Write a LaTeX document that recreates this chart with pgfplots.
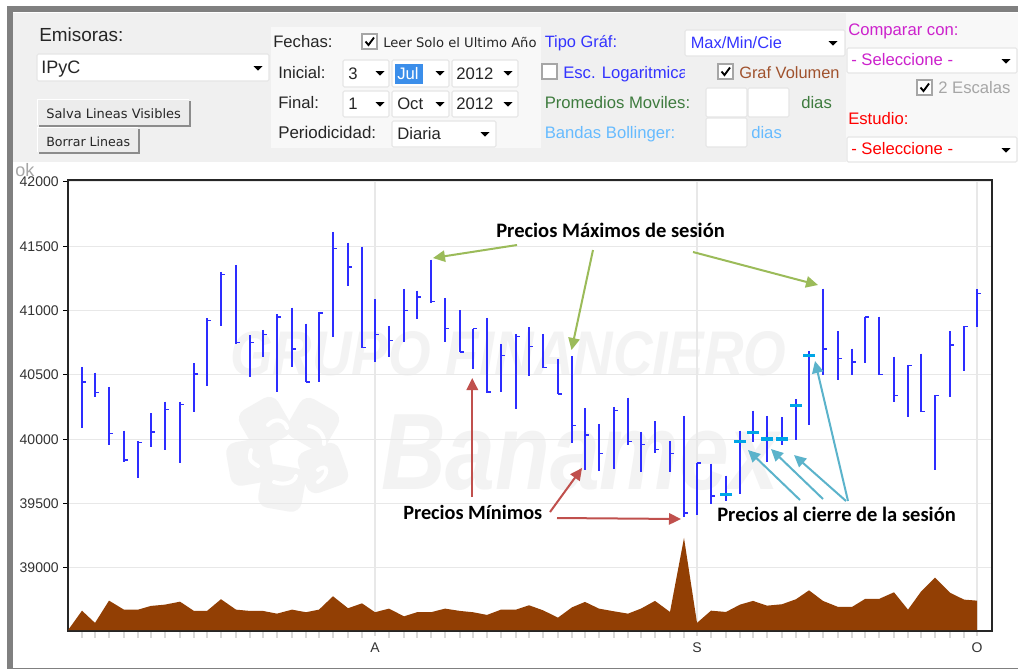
\documentclass[border=0pt]{standalone}
\usepackage{graphicx}
\usepackage{fontspec}
\usepackage{pgfplots}
\usepackage{pgfplotstable}
\pgfplotsset{compat=1.18}
\usetikzlibrary{arrows.meta}
\setmainfont{Liberation Sans}
\newfontfamily\calib{Carlito}
\newfontfamily\dejav{DejaVu Sans}
\definecolor{wm}{HTML}{F3F3F3}
\definecolor{barblue}{RGB}{45,45,255}
\definecolor{closecy}{HTML}{00A6E6}
\definecolor{vol}{HTML}{923F04}
\definecolor{gridc}{HTML}{E8E8E8}
\definecolor{pan}{HTML}{F0F0F0}
\definecolor{panb}{HTML}{F8F8F8}
\definecolor{fld}{HTML}{E6E6E6}
\definecolor{arG}{HTML}{9BBB59}
\definecolor{arR}{HTML}{C0504D}
\definecolor{arT}{HTML}{5BB3CB}
\definecolor{uiblue}{HTML}{3333FF}
\definecolor{uimag}{HTML}{CC22CC}
\definecolor{uigreen}{HTML}{3E7B3E}
\definecolor{uisky}{HTML}{66BBFF}
\definecolor{uibrown}{HTML}{A0522D}
\definecolor{uisel}{HTML}{3B8EEA}
\pgfdeclareplotmark{closetick}{\pgfpathmoveto{\pgfpoint{0pt}{0pt}}\pgfpathlineto{\pgfpoint{3pt}{0pt}}\pgfusepathqstroke}
\pgfplotstableread{
x hi lo cl
82 40562 40090 40446
95 40518 40329 40362
109 40407 39956 40044
124 40067 39824 39839
138 39985 39700 39977
151 40202 39938 40057
165 40293 39917 40230
180 40293 39814 40272
194 40591 40215 40508
207 40941 40412 40922
221 41301 40883 41280
236 41355 40741 40751
250 40809 40482 40754
263 40850 40638 40816
277 40972 40368 40951
292 41023 40565 40702
306 40899 40443 40446
319 40992 40443 40982
333 41611 40793 41485
348 41528 41192 41339
362 41497 40712 40712
375 41088 40603 40816
389 40881 40638 40767
404 41168 40759 41003
417 41155 40935 41106
431 41396 41062 41073
445 41096 40759 40860
460 41003 40679 40679
473 40860 40544 40860
487 40943 40358 40368
501 40739 40368 40650
516 40819 40236 40798
529 40871 40495 40723
543 40819 40557 40557
558 40624 40352 40352
572 40645 39969 40106
585 40241 39762 40034
599 40119 39754 39891
614 40251 39772 40223
628 40324 39956 39985
641 40057 39744 39961
655 40140 39896 39923
670 39985 39744 39891
684 40181 39399 39427
697 39816 39412 39816
711 39811 39495 39560
726 39717 39523 39570
740 40067 39575 39982
753 40223 39977 40055
767 40181 39824 40003
782 40171 39956 40003
796 40313 39997 40261
809 40687 40111 40653
823 41171 40502 40702
838 40840 40461 40630
852 40704 40502 40601
865 40951 40593 40951
879 40953 40502 40502
894 40642 40288 40342
908 40578 40174 40572
921 40666 40215 40215
935 40342 39762 40342
950 40840 40327 40733
964 40879 40533 40879
977 41168 40873 41135
}\bars
\pgfplotstableread{
x cl
726 39570
740 39982
753 40055
767 40003
782 40003
796 40261
809 40653
}\closes
\pgfplotstableread{
x v
68 38516
82 38668
95 38573
109 38746
124 38676
138 38676
151 38705
165 38715
180 38738
194 38666
207 38666
221 38757
236 38676
250 38666
263 38666
277 38645
292 38676
306 38656
319 38676
333 38780
348 38687
362 38725
375 38656
389 38684
404 38624
417 38656
431 38656
445 38684
460 38666
473 38656
487 38635
501 38676
516 38676
529 38710
543 38671
558 38614
572 38694
585 38736
599 38684
614 38663
628 38645
641 38684
655 38744
670 38658
684 39233
697 38573
711 38668
726 38658
740 38715
753 38744
767 38707
782 38718
796 38757
809 38826
823 38744
838 38697
852 38697
865 38759
879 38759
894 38811
908 38676
921 38816
935 38925
950 38808
964 38754
977 38746
977 38516
}\volume
% helpers, all in reference pixels
\newcommand{\Field}[4]{\draw[fld,fill=white,line width=.8pt,rounded corners=1pt] (#1,#2) rectangle (#3,#4);}
\newcommand{\Tri}[2]{\fill[black] (#1-4.5,#2-2) -- (#1+4.5,#2-2) -- (#1,#2+2.6) -- cycle;}
\newcommand{\Chk}[2]{\draw[gray!70,fill=white,line width=.9pt] (#1,#2) rectangle ++(15,15);
  \draw[black,line width=1.4pt] (#1+3.5,#2+7.5) -- (#1+6.5,#2+11) -- (#1+12,#2+3.5);}
\newcommand{\Txt}[5]{\node[anchor=mid west,inner sep=0pt,text=#3,font=\fontsize{#4}{#4}\selectfont] at (#1,#2+2.5) {#5};}
\newcommand{\Btn}[4]{\fill[gray!90] (#1+2,#2+2) rectangle (#3,#4);\fill[white] (#1,#2) rectangle (#3-2,#4-2);\fill[pan!80!gray!50!white] (#1+1,#2+1) rectangle (#3-2,#4-2);}
\begin{document}
\begin{tikzpicture}[x=.75pt,y=-.75pt]
\useasboundingbox (0,0) rectangle (1018,669);
\fill[white] (0,0) rectangle (1018,669);
% window frame
\fill[gray] (7,6) rectangle (13,669);
\fill[gray] (7,6) rectangle (1018,12);
\fill[gray] (7,667.6) rectangle (1018,669);
% watermark
\node[anchor=south west,inner sep=0pt,text=wm] at (230,376) {\resizebox{417pt}{33pt}{\bfseries\itshape GRUPO FINANCIERO}};
\node[anchor=south west,inner sep=0pt,text=wm] at (381,491) {\resizebox{298pt}{56pt}{\bfseries\itshape Banamex}};
\foreach \cx/\cy/\r in {265/423/30,313/424/-30,323/468/20,282/488/-10,250/462/10}{
  \node[fill=wm,rounded corners=8pt,minimum size=33pt,rotate=\r] at (\cx,\cy) {};}
\draw[white,line width=3pt,line cap=round] (268,425) .. controls (275,417) and (285,420) .. (287,428);
\draw[white,line width=3pt,line cap=round] (309,426) .. controls (320,428) and (325,437) .. (324,444);
\draw[white,line width=3pt,line cap=round] (318,470) .. controls (328,462) and (330,475) .. (318,482);
\draw[white,line width=3pt,line cap=round] (274,482) .. controls (285,486) and (295,482) .. (296,476);
\draw[white,line width=3pt,line cap=round] (251,450) .. controls (248,462) and (252,462) .. (258,466);
% chart
\begin{axis}[
  at={(51pt,-473.25pt)},anchor=south west,
  scale only axis,width=693pt,height=338.25pt,
  xmin=68,xmax=992,ymin=38510,ymax=42015,
  xtick={375,697,977},xticklabels={A,S,O},
  minor xtick={82,95,109,124,138,151,165,180,194,207,221,236,250,263,277,292,306,319,333,348,362,389,404,417,431,445,460,473,487,501,516,529,543,558,572,585,599,614,628,641,655,670,684,711,726,740,753,767,782,796,809,823,838,852,865,879,894,908,921,935,950,964},
  minor tick length=5pt,
  minor tick style={draw=gray!30,line width=.8pt},
  ytick={39000,39500,40000,40500,41000,41500,42000},
  scaled y ticks=false,
  yticklabel style={/pgf/number format/fixed,/pgf/number format/precision=0,/pgf/number format/1000 sep={}},
  grid=major,grid style={gridc,line width=.8pt},
  tick align=outside,tick pos=left,
  major tick length=3.5pt,
  xtick style={draw=gray!30,line width=.8pt},
  ytick style={draw=black,line width=.8pt},
  axis line style={draw=black!85,line width=1pt},
  tick label style={font=\fontsize{10.5}{10.5}\selectfont,text=black!80},
  x tick label style={yshift=-1.5pt},
  /pgf/number format/assume math mode=true,
  /pgf/number format/1000 sep={},
  clip=true,
]
\addplot[fill=vol,draw=none,forget plot] table[x=x,y=v] {\volume};
\addplot[draw=none,no marks,forget plot,
  error bars/.cd,y dir=minus,y explicit,error mark=none,
  error bar style={barblue,line width=1.15pt}]
  table[x=x,y=hi,y error minus expr=\thisrow{hi}-\thisrow{lo}] {\bars};
\addplot[only marks,mark=closetick,mark options={barblue,line width=1pt},forget plot] table[x=x,y=cl] {\bars};
\addplot[only marks,mark=-,mark size=4.6pt,mark options={closecy,line width=2.5pt},forget plot] table[x=x,y=cl] {\closes};
\end{axis}
% annotations
\begin{scope}[line width=1.5pt,arrows={-{Triangle[length=9pt,width=8.5pt]}}]
\draw[arG] (517,245) -- (433,258);
\draw[arG] (593,250) -- (571.5,350);
\draw[arG] (693,252) -- (818,285);
\draw[arR] (472.3,497) -- (472.3,378);
\draw[arR] (550,512) -- (582,468);
\draw[arR] (557,518) -- (681,519);
\draw[arT] (800,500) -- (748,450);
\draw[arT] (823,499) -- (771,449);
\draw[arT] (846,501) -- (794,455);
\draw[arT] (848,501) -- (815,361);
\end{scope}
\node[anchor=mid west,inner sep=0pt,text=black,font=\calib\bfseries\fontsize{15.4}{15.4}\selectfont] at (496,234) {Precios Máximos de sesión};
\node[anchor=mid west,inner sep=0pt,text=black,font=\calib\bfseries\fontsize{15.2}{15.2}\selectfont] at (403,516) {Precios Mínimos};
\node[anchor=mid west,inner sep=0pt,text=black,font=\calib\bfseries\fontsize{15.4}{15.4}\selectfont] at (717,518) {Precios al cierre de la sesión};
\Txt{15}{170}{gray!70}{13.5}{ok}
% control panels
\fill[pan] (13,13) rectangle (846,162);
\fill[panb] (846,13) rectangle (1018,162);
\fill[panb] (271,27) rectangle (541,148);
\Txt{39}{35}{black!85}{14.2}{Emisoras:}
\Field{37}{54}{269}{81}\Tri{258}{68}\Txt{41}{67.5}{black!85}{13.5}{IPyC}
\Btn{37}{99}{191}{127}\node[anchor=mid west,inner sep=0pt,text=black!85,font=\dejav\fontsize{9}{9}\selectfont] at (46,115) {\resizebox{101pt}{!}{Salva Lineas Visibles}};
\Btn{37}{127}{140}{154}\node[anchor=mid west,inner sep=0pt,text=black!85,font=\dejav\fontsize{9}{9}\selectfont] at (46,143) {\resizebox{63pt}{!}{Borrar Lineas}};
\Txt{273}{41}{black!85}{12.5}{Fechas:}
\Chk{362}{34}
\node[anchor=mid west,inner sep=0pt,text=black!85,font=\dejav\fontsize{9}{9}\selectfont] at (383,44) {\resizebox{115pt}{!}{Leer Solo el Ultimo Año}};
\Txt{278}{72}{black!85}{12.5}{Inicial:}
\Field{343}{60}{389}{87}\Tri{380}{73}\Txt{348}{73}{black!85}{12.5}{3}
\Field{392}{60}{449}{87}\fill[uisel] (395,64) rectangle (423,84);\Tri{440}{73}\Txt{397}{73}{white}{12.5}{Jul}
\Field{452}{60}{518}{87}\Tri{508}{73}\Txt{456}{73}{black!85}{12.5}{2012}
\Txt{278}{102}{black!85}{12.5}{Final:}
\Field{343}{91}{389}{117}\Tri{380}{104}\Txt{348}{103}{black!85}{12.5}{1}
\Field{392}{91}{449}{117}\Tri{440}{104}\Txt{397}{103}{black!85}{12.5}{Oct}
\Field{452}{91}{518}{117}\Tri{508}{104}\Txt{456}{103}{black!85}{12.5}{2012}
\Txt{278}{132}{black!85}{12.7}{Periodicidad:}
\Field{392}{121}{496}{147}\Tri{485}{134}\Txt{397}{133}{black!85}{12.5}{Diaria}
\Txt{544.5}{41}{uiblue}{12.3}{Tipo Gráf:}
\Field{685}{30}{845}{56}\Tri{833}{43}\Txt{690.5}{42}{uiblue}{12.3}{Max/Min/Cie}
\draw[gray!70,fill=white,line width=.9pt] (542,64) rectangle (557,79);
\begin{scope}\clip (560,60) rectangle (684,85);\Txt{563}{72}{uiblue}{12.5}{Esc. Logaritmica}\end{scope}
\Chk{718}{64}\Txt{739}{72}{uibrown}{12.3}{Graf Volumen}
\Txt{544.5}{102}{uigreen}{12.5}{Promedios Moviles:}
\Field{706}{88}{747}{117}\Field{748}{88}{789}{117}\Txt{801}{102}{uigreen}{12.5}{dias}
\Txt{544.5}{132}{uisky}{12.5}{Bandas Bollinger:}
\Field{706}{118}{747}{147}\Txt{751}{132}{uisky}{12.5}{dias}
\Txt{848}{29}{uimag}{12.5}{Comparar con:}
\Field{847}{48}{1017}{73}\Tri{1006}{61}\Txt{851}{59.5}{uimag}{12.5}{- Seleccione -}
\Chk{917}{80}\Txt{938}{87}{gray!70}{12.5}{2 Escalas}
\Txt{848}{118}{red}{12.5}{Estudio:}
\Field{847}{137}{1017}{162}\Tri{1006}{150}\Txt{851}{148}{red}{12.5}{- Seleccione -}
\end{tikzpicture}
\end{document}
